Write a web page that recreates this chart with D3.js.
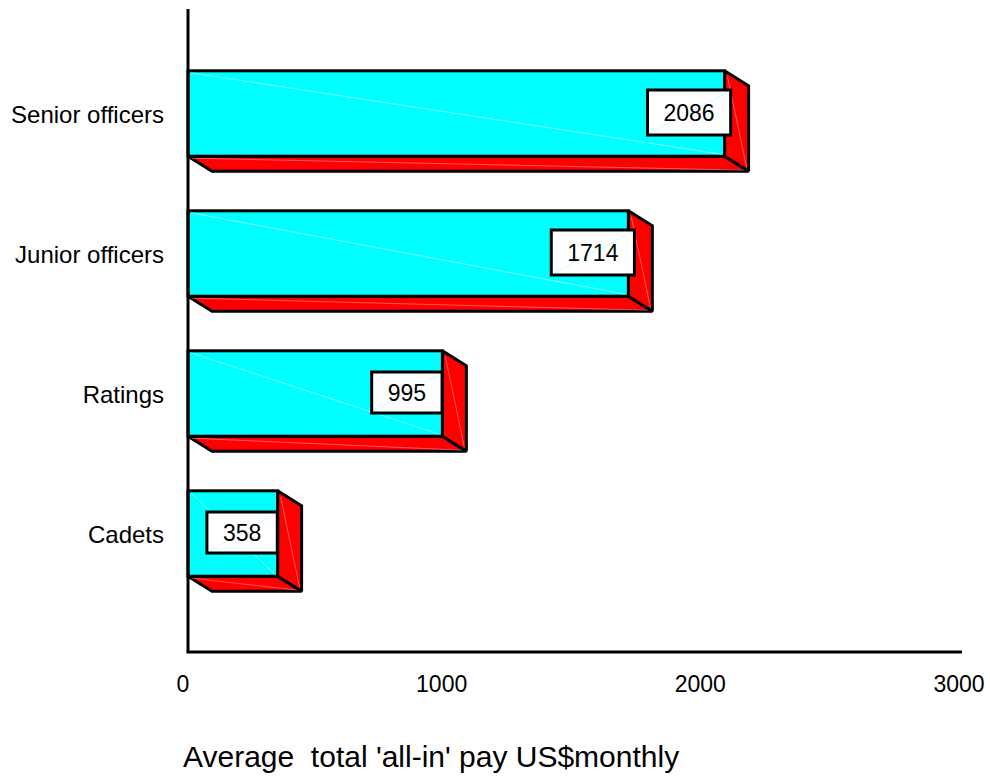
<!DOCTYPE html>
<html>
<head>
<meta charset="utf-8">
<script src="https://cdn.jsdelivr.net/npm/d3@7"></script>
<style>
  html, body { margin: 0; padding: 0; background: #ffffff; }
  svg { display: block; }
  text { font-family: "Liberation Sans", Arial, sans-serif; fill: #000; }
</style>
</head>
<body>
<svg id="chart" width="990" height="779"></svg>
<script>
// ---- data ----
const categories = ["Senior officers", "Junior officers", "Ratings", "Cadets"];
const values = [2086, 1714, 995, 358];
const xTicks = [0, 1000, 2000, 3000];
const axisTitle = "Average  total 'all-in' pay US$monthly";

// ---- layout ----
const plotLeft = 188, plotTop = 9, plotBottom = 652, plotRight = 962;
const depthX = 24, depthY = 15;

const svg = d3.select("#chart");

const x = d3.scaleLinear().domain([0, 3000]).range([185, 961]);
const y = d3.scaleBand().domain(categories)
  .range([43.5, 603.5]).paddingInner(0.39).paddingOuter(0.195);

const data = categories.map((c, i) => ({ cat: c, val: values[i] }));

const bars = svg.append("g").selectAll("g.bar").data(data).join("g").attr("class", "bar");

bars.each(function (d) {
  const g = d3.select(this);
  const x0 = plotLeft, x1 = x(d.val);
  const yt = y(d.cat), yb = y(d.cat) + y.bandwidth();
  const line = d3.line();
  // bottom face
  g.append("path")
    .attr("d", line([[x0, yb], [x1, yb], [x1 + depthX, yb + depthY], [x0 + depthX, yb + depthY]]) + "Z")
    .attr("fill", "#ff0000").attr("stroke", "#000").attr("stroke-width", 3)
    .attr("stroke-linejoin", "miter").attr("stroke-miterlimit", 2);
  g.append("line")
    .attr("x1", x0 + 4).attr("y1", yb + 2).attr("x2", x1 + depthX - 4).attr("y2", yb + depthY - 1)
    .attr("stroke", "#ffb0b0").attr("stroke-width", 0.7).attr("opacity", 0.7);
  // right face
  g.append("path")
    .attr("d", line([[x1, yt], [x1 + depthX, yt + depthY], [x1 + depthX, yb + depthY], [x1, yb]]) + "Z")
    .attr("fill", "#ff0000").attr("stroke", "#000").attr("stroke-width", 3)
    .attr("stroke-linejoin", "miter").attr("stroke-miterlimit", 2);
  g.append("line")
    .attr("x1", x1 + 3).attr("y1", yt + 6).attr("x2", x1 + depthX - 2).attr("y2", yb + depthY - 4)
    .attr("stroke", "#ffb0b0").attr("stroke-width", 0.7).attr("opacity", 0.7);
  // front face
  g.append("rect")
    .attr("x", x0).attr("y", yt).attr("width", x1 - x0).attr("height", yb - yt)
    .attr("fill", "#00ffff").attr("stroke", "#000").attr("stroke-width", 3);
  g.append("line")
    .attr("x1", x0 + 3).attr("y1", yt + 2).attr("x2", x1 - 3).attr("y2", yb - 2)
    .attr("stroke", "#d8ffff").attr("stroke-width", 0.7).attr("opacity", 0.8);
});

// axes lines
svg.append("line").attr("x1", plotLeft).attr("y1", plotTop).attr("x2", plotLeft).attr("y2", plotBottom)
  .attr("stroke", "#000").attr("stroke-width", 3);
svg.append("line").attr("x1", plotLeft - 1.5).attr("y1", plotBottom).attr("x2", plotRight).attr("y2", plotBottom)
  .attr("stroke", "#000").attr("stroke-width", 3);

// value labels
bars.each(function (d) {
  const g = d3.select(this);
  const cx = x(d.val) - 35.5;
  const cy = y(d.cat) + y.bandwidth() / 2 - 1;
  const box = g.append("rect").attr("fill", "#fff").attr("stroke", "#000").attr("stroke-width", 3);
  const diag = g.append("line").attr("stroke", "#b0ffff").attr("stroke-width", 0.7);
  const t = g.append("text")
    .attr("x", cx).attr("y", cy + 8.5)
    .attr("text-anchor", "middle")
    .style("font-size", "23px")
    .text(d.val);
  const tw = t.node().getComputedTextLength();
  const bw = tw + 32, bh = d.val >= 1000 ? 45 : 41;
  box.attr("x", cx - bw / 2).attr("y", cy - bh / 2).attr("width", bw).attr("height", bh);
  diag.attr("x1", cx - bw / 2 + 2).attr("y1", cy + bh / 2 - 2).attr("x2", cx + bw / 2 - 2).attr("y2", cy - bh / 2 + 2);
  t.raise();
});

// category labels
svg.append("g").selectAll("text").data(categories).join("text")
  .attr("x", 164)
  .attr("y", d => y(d) + y.bandwidth() / 2 + 9)
  .attr("text-anchor", "end")
  .style("font-size", "24px")
  .text(d => d);

// x tick labels
svg.append("g").selectAll("text").data(xTicks).join("text")
  .attr("x", d => x(d) - 2)
  .attr("y", 692)
  .attr("text-anchor", "middle")
  .style("font-size", "23px")
  .text(d => d);

// axis title
svg.append("text")
  .attr("x", 183).attr("y", 767)
  .attr("xml:space", "preserve")
  .style("white-space", "pre")
  .style("font-size", "30px")
  .text(axisTitle);
</script>
</body>
</html>
